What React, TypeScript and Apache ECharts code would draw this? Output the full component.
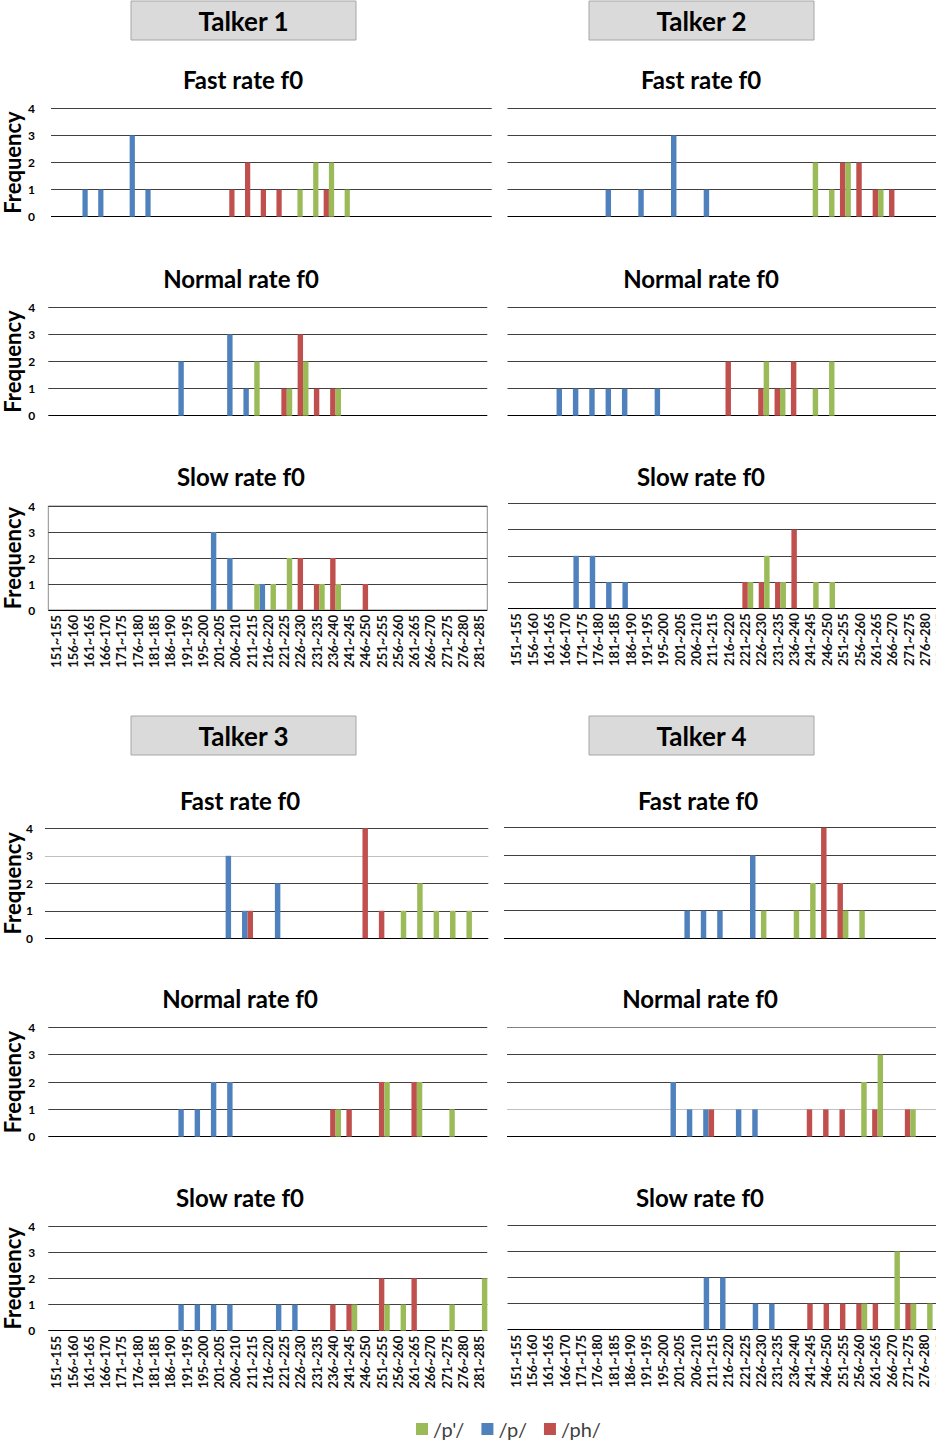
import React, { useEffect, useRef } from "react";
import * as echarts from "echarts";

// ---------- DATA ----------
const categories = [
  "151~155", "156~160", "161~165", "166~170", "171~175", "176~180", "181~185",
  "186~190", "191~195", "195~200", "201~205", "206~210", "211~215", "216~220",
  "221~225", "226~230", "231~235", "236~240", "241~245", "246~250", "251~255",
  "256~260", "261~265", "266~270", "271~275", "276~280", "281~285",
];
const yTickMax = 4;
const legendNames = ["/p'/", "/p/", "/ph/"];
const talkerTitles = ["Talker 1", "Talker 2", "Talker 3", "Talker 4"];
const rateTitles = ["Fast rate f0", "Normal rate f0", "Slow rate f0"];

// /p/ (blue), /ph/ (red), /p'/ (green) — frequency per f0 bin
const t1FastP   = [0,0,1,1,0, 3,1,0,0,0, 0,0,0,0,0, 0,0,0,0,0, 0,0,0,0,0, 0,0];
const t1FastPh  = [0,0,0,0,0, 0,0,0,0,0, 0,1,2,1,1, 0,0,1,0,0, 0,0,0,0,0, 0,0];
const t1FastPp  = [0,0,0,0,0, 0,0,0,0,0, 0,0,0,0,0, 1,2,2,1,0, 0,0,0,0,0, 0,0];
const t1NormP   = [0,0,0,0,0, 0,0,0,2,0, 0,3,1,0,0, 0,0,0,0,0, 0,0,0,0,0, 0,0];
const t1NormPh  = [0,0,0,0,0, 0,0,0,0,0, 0,0,0,0,1, 3,1,1,0,0, 0,0,0,0,0, 0,0];
const t1NormPp  = [0,0,0,0,0, 0,0,0,0,0, 0,0,2,0,1, 2,0,1,0,0, 0,0,0,0,0, 0,0];
const t1SlowP   = [0,0,0,0,0, 0,0,0,0,0, 3,2,0,1,0, 0,0,0,0,0, 0,0,0,0,0, 0,0];
const t1SlowPh  = [0,0,0,0,0, 0,0,0,0,0, 0,0,0,0,0, 2,1,2,0,1, 0,0,0,0,0, 0,0];
const t1SlowPp  = [0,0,0,0,0, 0,0,0,0,0, 0,0,1,1,2, 0,1,1,0,0, 0,0,0,0,0, 0,0];

const t2FastP   = [0,0,0,0,0, 0,1,0,1,0, 3,0,1,0,0, 0,0,0,0,0, 0,0,0,0,0, 0,0];
const t2FastPh  = [0,0,0,0,0, 0,0,0,0,0, 0,0,0,0,0, 0,0,0,0,0, 2,2,1,1,0, 0,0];
const t2FastPp  = [0,0,0,0,0, 0,0,0,0,0, 0,0,0,0,0, 0,0,0,2,1, 2,0,1,0,0, 0,0];
const t2NormP   = [0,0,0,1,1, 1,1,1,0,1, 0,0,0,0,0, 0,0,0,0,0, 0,0,0,0,0, 0,0];
const t2NormPh  = [0,0,0,0,0, 0,0,0,0,0, 0,0,0,2,0, 1,1,2,0,0, 0,0,0,0,0, 0,0];
const t2NormPp  = [0,0,0,0,0, 0,0,0,0,0, 0,0,0,0,0, 2,1,0,1,2, 0,0,0,0,0, 0,0];
const t2SlowP   = [0,0,0,0,2, 2,1,1,0,0, 0,0,0,0,0, 0,0,0,0,0, 0,0,0,0,0, 0,0];
const t2SlowPh  = [0,0,0,0,0, 0,0,0,0,0, 0,0,0,0,1, 1,1,3,0,0, 0,0,0,0,0, 0,0];
const t2SlowPp  = [0,0,0,0,0, 0,0,0,0,0, 0,0,0,0,1, 2,1,0,1,1, 0,0,0,0,0, 0,0];

const t3FastP   = [0,0,0,0,0, 0,0,0,0,0, 0,3,1,0,2, 0,0,0,0,0, 0,0,0,0,0, 0,0];
const t3FastPh  = [0,0,0,0,0, 0,0,0,0,0, 0,0,1,0,0, 0,0,0,0,4, 1,0,0,0,0, 0,0];
const t3FastPp  = [0,0,0,0,0, 0,0,0,0,0, 0,0,0,0,0, 0,0,0,0,0, 0,1,2,1,1, 1,0];
const t3NormP   = [0,0,0,0,0, 0,0,0,1,1, 2,2,0,0,0, 0,0,0,0,0, 0,0,0,0,0, 0,0];
const t3NormPh  = [0,0,0,0,0, 0,0,0,0,0, 0,0,0,0,0, 0,0,1,1,0, 2,0,2,0,0, 0,0];
const t3NormPp  = [0,0,0,0,0, 0,0,0,0,0, 0,0,0,0,0, 0,0,1,0,0, 2,0,2,0,1, 0,0];
const t3SlowP   = [0,0,0,0,0, 0,0,0,1,1, 1,1,0,0,1, 1,0,0,0,0, 0,0,0,0,0, 0,0];
const t3SlowPh  = [0,0,0,0,0, 0,0,0,0,0, 0,0,0,0,0, 0,0,1,1,0, 2,0,2,0,0, 0,0];
const t3SlowPp  = [0,0,0,0,0, 0,0,0,0,0, 0,0,0,0,0, 0,0,0,1,0, 1,1,0,0,1, 0,2];

const t4FastP   = [0,0,0,0,0, 0,0,0,0,0, 0,1,1,1,0, 3,0,0,0,0, 0,0,0,0,0, 0,0];
const t4FastPh  = [0,0,0,0,0, 0,0,0,0,0, 0,0,0,0,0, 0,0,0,0,4, 2,0,0,0,0, 0,0];
const t4FastPp  = [0,0,0,0,0, 0,0,0,0,0, 0,0,0,0,0, 1,0,1,2,0, 1,1,0,0,0, 0,0];
const t4NormP   = [0,0,0,0,0, 0,0,0,0,0, 2,1,1,0,1, 1,0,0,0,0, 0,0,0,0,0, 0,0];
const t4NormPh  = [0,0,0,0,0, 0,0,0,0,0, 0,0,1,0,0, 0,0,0,1,1, 1,0,1,0,1, 0,0];
const t4NormPp  = [0,0,0,0,0, 0,0,0,0,0, 0,0,0,0,0, 0,0,0,0,0, 0,2,3,0,1, 0,0];
const t4SlowP   = [0,0,0,0,0, 0,0,0,0,0, 0,0,2,2,0, 1,1,0,0,0, 0,0,0,0,0, 0,0];
const t4SlowPh  = [0,0,0,0,0, 0,0,0,0,0, 0,0,0,0,0, 0,0,0,1,1, 1,1,1,0,1, 0,0];
const t4SlowPp  = [0,0,0,0,0, 0,0,0,0,0, 0,0,0,0,0, 0,0,0,0,0, 0,1,0,3,1, 1,0];

const panelData = [
  [t1FastP, t1FastPh, t1FastPp], [t1NormP, t1NormPh, t1NormPp], [t1SlowP, t1SlowPh, t1SlowPp],
  [t2FastP, t2FastPh, t2FastPp], [t2NormP, t2NormPh, t2NormPp], [t2SlowP, t2SlowPh, t2SlowPp],
  [t3FastP, t3FastPh, t3FastPp], [t3NormP, t3NormPh, t3NormPp], [t3SlowP, t3SlowPh, t3SlowPp],
  [t4FastP, t4FastPh, t4FastPp], [t4NormP, t4NormPh, t4NormPp], [t4SlowP, t4SlowPh, t4SlowPp],
];

// ---------- STYLE / LAYOUT ----------
const FONT = "Lato, 'Open Sans', sans-serif";
const COL_P = "#4F81BD";
const COL_PH = "#C0504D";
const COL_PP = "#9BBB59";
const LINE = "#404040";
const LIGHT = "#c0c0c0";

type Layout = {
  left: number; top: number; height: number; catW: number; frameW: number;
  yLab: boolean; yMargin: number; xLab: boolean; box?: boolean; lineColors?: string[];
};

const L: Layout[] = [
  { left: 51, top: 108.3, height: 108.4, catW: 15.73, frameW: 440.7, yLab: true, yMargin: 16, xLab: false },
  { left: 48.3, top: 307.3, height: 108.4, catW: 16.26, frameW: 439, yLab: true, yMargin: 13, xLab: false },
  { left: 48.3, top: 506, height: 104, catW: 16.26, frameW: 439, yLab: true, yMargin: 13, xLab: true, box: true },
  { left: 507.5, top: 108.3, height: 108.4, catW: 16.35, frameW: 441.5, yLab: false, yMargin: 8, xLab: false },
  { left: 507.5, top: 307.3, height: 108.4, catW: 16.35, frameW: 441.5, yLab: false, yMargin: 8, xLab: false },
  { left: 508, top: 503.3, height: 105, catW: 16.35, frameW: 441.5, yLab: false, yMargin: 8, xLab: true },
  { left: 45, top: 828.3, height: 110, catW: 16.42, frameW: 443.3, yLab: true, yMargin: 12, xLab: false,
    lineColors: ["#000", LINE, LINE, LIGHT, LINE] },
  { left: 48.3, top: 1027.3, height: 109.4, catW: 16.26, frameW: 439, yLab: true, yMargin: 13, xLab: false },
  { left: 48.3, top: 1226, height: 104.7, catW: 16.26, frameW: 439, yLab: true, yMargin: 13, xLab: true },
  { left: 504, top: 827.7, height: 110.6, catW: 16.4, frameW: 442.8, yLab: false, yMargin: 8, xLab: false },
  { left: 507, top: 1027.3, height: 109.4, catW: 16.35, frameW: 441.5, yLab: false, yMargin: 8, xLab: false,
    lineColors: ["#000", LIGHT, LINE, LINE, "#808080"] },
  { left: 507.5, top: 1225.3, height: 104.4, catW: 16.35, frameW: 441.5, yLab: false, yMargin: 8, xLab: true },
];

const titleBoxes = [
  { x: 131, y: 1 }, { x: 589, y: 1 }, { x: 131, y: 716 }, { x: 589, y: 716 },
];
const subtitlePos = [
  [243, 79], [241, 278], [241, 476],
  [701, 79], [701, 278], [701, 476],
  [240, 800], [240, 998], [240, 1197],
  [698, 800], [700, 998], [700, 1197],
];

function buildOption() {
  const grid: any[] = [];
  const xAxis: any[] = [];
  const yAxis: any[] = [];
  const series: any[] = [];
  const graphic: any[] = [];

  L.forEach((g, i) => {
    const a = 2 * i;
    const b = 2 * i + 1;
    grid.push({
      left: g.left, top: g.top, width: g.frameW, height: g.height,
      outerBoundsMode: "none", containLabel: false,
      show: !!g.box, borderColor: "#8c8c8c", borderWidth: 1, backgroundColor: "transparent",
    });
    grid.push({
      left: g.left, top: g.top, width: g.catW * categories.length, height: g.height,
      outerBoundsMode: "none", containLabel: false,
    });
    xAxis.push({ type: "value", gridIndex: a, min: 0, max: 1, show: false });
    xAxis.push({
      type: "category", gridIndex: b, data: categories,
      axisLine: { show: false }, axisTick: { show: false }, splitLine: { show: false },
      axisLabel: {
        show: g.xLab, rotate: 90, interval: 0, fontSize: 13, fontWeight: "bold",
        fontFamily: FONT, color: "#111", margin: 5, hideOverlap: false,
      },
    });
    yAxis.push({
      type: "value", gridIndex: a, min: 0, max: yTickMax, interval: 1,
      axisLine: { show: false }, axisTick: { show: false },
      axisLabel: { show: g.yLab, fontSize: 12, fontWeight: "bold", fontFamily: FONT, color: "#000", margin: g.yMargin },
      splitLine: { show: true, lineStyle: { color: g.lineColors || ["#000", LINE, LINE, LINE, LINE], width: 1 } },
    });
    yAxis.push({ type: "value", gridIndex: b, min: 0, max: yTickMax, interval: 1, show: false });

    const [p, ph, pp] = panelData[i];
    const mk = (name: string, data: number[], color: string) => ({
      type: "bar", name, data, xAxisIndex: b, yAxisIndex: b,
      barGap: "0%", barCategoryGap: "0%",
      itemStyle: { color },
      emphasis: { disabled: true },
    });
    series.push(mk("/p/", p, COL_P), mk("/ph/", ph, COL_PH), mk("/p'/", pp, COL_PP));

    const [sx, sy] = subtitlePos[i];
    graphic.push({
      type: "text", x: sx, y: sy,
      style: {
        text: rateTitles[i % 3], fontSize: 24, fontWeight: "bold", fontFamily: FONT, fill: "#000",
        align: "center", verticalAlign: "middle", textAlign: "center", textVerticalAlign: "middle",
      },
    });
    if (g.yLab) {
      graphic.push({
        type: "text", x: 12, y: g.top + g.height / 2, rotation: Math.PI / 2,
        style: {
          text: "Frequency", fontSize: 22, fontWeight: "bold", fontFamily: FONT, fill: "#000",
          align: "center", verticalAlign: "middle", textAlign: "center", textVerticalAlign: "middle",
        },
      });
    }
  });

  titleBoxes.forEach((t, i) => {
    graphic.push({
      type: "rect", shape: { x: t.x, y: t.y, width: 225, height: 39 },
      style: { fill: "#dadada", stroke: "#a6a6a6", lineWidth: 1 },
    });
    graphic.push({
      type: "text", x: t.x + 112.5, y: t.y + 20,
      style: {
        text: talkerTitles[i], fontSize: 26, fontWeight: "bold", fontFamily: FONT, fill: "#000",
        align: "center", verticalAlign: "middle", textAlign: "center", textVerticalAlign: "middle",
      },
    });
  });

  return {
    animation: false,
    backgroundColor: "#fff",
    textStyle: { fontFamily: FONT },
    grid, xAxis, yAxis, series, graphic,
    legend: {
      data: legendNames, left: 416, top: 1419, icon: "rect",
      itemWidth: 12, itemHeight: 12, itemGap: 17, itemTextGap: 5, padding: 0,
      selectedMode: false,
      textStyle: { fontSize: 20, lineHeight: 20, color: "#404040", fontFamily: FONT },
    },
  };
}

export default function App() {
  const ref = useRef<HTMLDivElement>(null);
  useEffect(() => {
    if (!ref.current) return;
    const chart = echarts.init(ref.current, null, { renderer: "svg" });
    chart.setOption(buildOption() as any);
    return () => chart.dispose();
  }, []);
  return (
    <div
      ref={ref}
      style={{ position: "absolute", left: 0, top: 0, width: 936, height: 1443, background: "#fff" }}
    />
  );
}
